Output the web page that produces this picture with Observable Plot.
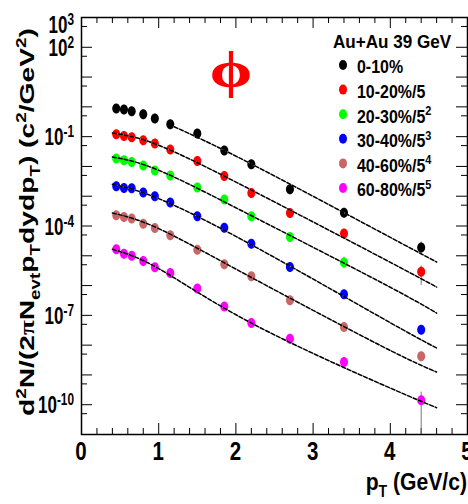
<!DOCTYPE html>
<html>
<head>
<meta charset="utf-8">
<script src="https://cdn.jsdelivr.net/npm/d3@7"></script>
<script src="https://cdn.jsdelivr.net/npm/@observablehq/plot@0.6"></script>
<style>
  html, body { margin: 0; padding: 0; background: #fff; }
  #chart { width: 468px; height: 504px; overflow: hidden; }
  #chart svg text { font-family: "Liberation Sans", Arial, sans-serif; font-weight: bold; fill: #000; }
</style>
</head>
<body>
<div id="chart"></div>
<script>
// phi meson invariant yields, Au+Au at 39 GeV, by centrality (scaled by 1/5^n)
const centralities = ["0-10%", "10-20%", "20-30%", "30-40%", "40-60%", "60-80%"];
const scalePowers = [0, 1, 2, 3, 4, 5];
const colors = ["#000000", "#ff0000", "#00ff00", "#0000ff", "#cc6666", "#ff00ff"];

const pT = [0.45, 0.55, 0.65, 0.8, 0.95, 1.15, 1.5, 1.85, 2.2, 2.7, 3.4, 4.4];

const yield0_10  = [0.877, 0.81, 0.71, 0.565, 0.405, 0.26, 0.127, 0.034, 0.0118, 0.0017, 2.8e-4, 1.88e-5];
const yield10_20 = [0.120, 0.105, 0.0953, 0.0755, 0.0586, 0.0368, 0.0152, 0.00478, 0.00128, 2.73e-4, 5.55e-5, 2.89e-6];
const yield20_30 = [0.0184, 0.0161, 0.0141, 0.0107, 0.00726, 0.00493, 0.00195, 7.7e-4, 2.11e-4, 4.27e-5, 5.9e-6, null];
const yield30_40 = [0.00215, 0.00189, 0.00185, 0.00132, 9.9e-4, 6.1e-4, 2.11e-4, 8.8e-5, 2.56e-5, 4.19e-6, 5.07e-7, 3.3e-8];
const yield40_60 = [2.29e-4, 2.0e-4, 1.77e-4, 1.20e-4, 8.55e-5, 4.86e-5, 1.61e-5, 5.16e-6, 2.04e-6, 3.19e-7, 4.04e-8, 4.2e-9];
const yield60_80 = [1.65e-5, 1.18e-5, 9.97e-6, 6.67e-6, 4.09e-6, 2.64e-6, 7.9e-7, 2.0e-7, 5.5e-8, 1.65e-8, 2.7e-9, 1.4e-10];
const yields = [yield0_10, yield10_20, yield20_30, yield30_40, yield40_60, yield60_80];

// visible statistical error bars: [centrality, pT, low, high]
const errorBars = [
  ["0-10%", 4.4, 1.21e-5, 2.9e-5],
  ["10-20%", 4.4, 1.02e-6, 4.5e-6],
  ["20-30%", 3.4, 3.8e-6, 9e-6],
  ["60-80%", 4.4, 1e-11, 2.65e-10]
];

// fitted spectra (dashed curves), sampled at a few pT nodes
const fitPt0_10 = [1.2, 2.19, 3.87, 4.6];
const fitPt = [0.4, 1.0, 2.19, 3.87, 4.6];
const fit0_10  = [0.215, 0.01247, 6.28e-5, 6.17e-6];
const fit10_20 = [0.133, 0.0513, 0.00167, 9.08e-6, 8.93e-7];
const fit20_30 = [0.02075, 0.00743, 2.29e-4, 1.32e-6, 1.19e-7];
const fit30_40 = [0.00251, 8.3e-4, 2.43e-5, 8.77e-8, 7.98e-9];
const fit40_60 = [2.73e-4, 8.17e-5, 1.94e-6, 9.82e-9, 1.25e-9];
const fit60_80 = [1.65e-5, 3.71e-6, 5.69e-8, 5.08e-10, 7.94e-11];
const fits = [fit0_10, fit10_20, fit20_30, fit30_40, fit40_60, fit60_80];

// axis ticks
const xMajorTicks = [0, 1, 2, 3, 4, 5];
const xMinorTicks = d3.range(0, 5.001, 0.2).map(v => +v.toFixed(1)).filter(v => v % 1 !== 0);
const yMajorTicks = d3.range(-11, 4).map(e => Math.pow(10, e));
const yMinorTicks = d3.range(-11, 3).map(e => 5 * Math.pow(10, e));
const yLabelExponents = [3, 2, -1, -4, -7, -10];

// ---- tidy rows ----
const points = centralities.flatMap((c, i) =>
  pT.map((x, j) => ({c, pt: x, y: yields[i][j]})).filter(d => d.y != null));
const fitRows = centralities.flatMap((c, i) =>
  (i === 0 ? fitPt0_10 : fitPt).map((x, j) => ({c, pt: x, y: fits[i][j]})));
const errRows = errorBars.map(([c, pt, lo, hi]) => ({c, pt, lo, hi}));

// slightly tall ellipse marker
const ellipse = {
  draw(ctx, size) {
    const r = Math.sqrt(size / Math.PI), rx = r * 0.8, ry = r, k = 0.5523;
    ctx.moveTo(rx, 0);
    ctx.bezierCurveTo(rx, ry * k, rx * k, ry, 0, ry);
    ctx.bezierCurveTo(-rx * k, ry, -rx, ry * k, -rx, 0);
    ctx.bezierCurveTo(-rx, -ry * k, -rx * k, -ry, 0, -ry);
    ctx.bezierCurveTo(rx * k, -ry, rx, -ry * k, rx, 0);
    ctx.closePath();
  }
};

const W = 468, H = 504, mL = 81, mR = 1, mT = 17, mB = 70;
const innerW = W - mL - mR, innerH = H - mT - mB;

const plot = Plot.plot({
  width: W, height: H,
  marginLeft: mL, marginRight: mR, marginTop: mT, marginBottom: mB,
  x: {domain: [0, 5], axis: null},
  y: {type: "log", domain: [1e-11, 1e3], axis: null},
  color: {domain: centralities, range: colors},
  style: {background: "#fff", overflow: "visible"},
  marks: [
    // inward ticks on all four sides
    Plot.tickX(xMinorTicks, {x: d => d, insetTop: innerH - 6, stroke: "#000"}),
    Plot.tickX(xMajorTicks, {x: d => d, insetTop: innerH - 11, stroke: "#000"}),
    Plot.tickX(xMinorTicks, {x: d => d, insetBottom: innerH - 6, stroke: "#000"}),
    Plot.tickX(xMajorTicks, {x: d => d, insetBottom: innerH - 11, stroke: "#000"}),
    Plot.tickY(yMajorTicks, {y: d => d, insetRight: innerW - 11, stroke: "#000"}),
    Plot.tickY(yMinorTicks, {y: d => d, insetRight: innerW - 6, stroke: "#000"}),
    Plot.tickY(yMajorTicks, {y: d => d, insetLeft: innerW - 11, stroke: "#000"}),
    Plot.tickY(yMinorTicks, {y: d => d, insetLeft: innerW - 6, stroke: "#000"}),
    Plot.ruleX(errRows, {x: "pt", y1: "lo", y2: "hi", stroke: "#777", strokeWidth: 1}),
    Plot.dot(points, {x: "pt", y: "y", fill: "c", r: 5, symbol: ellipse}),
    Plot.line(fitRows, {x: "pt", y: "y", z: "c", stroke: "#c8c8c8", strokeWidth: 1, curve: "natural"}),
    Plot.line(fitRows, {x: "pt", y: "y", z: "c", stroke: "#000", strokeWidth: 1.5, strokeDasharray: "4,2", curve: "natural"}),
    Plot.frame({stroke: "#000", strokeWidth: 1.5})
  ]
});

document.getElementById("chart").appendChild(plot);

const svg = d3.select(plot);
const xs = plot.scale("x"), ys = plot.scale("y");

// bold text placed at (x, y), squeezed horizontally by sx around its anchor
function label(parent, x, y, size, anchor, sx) {
  return parent.append("text")
    .attr("transform", `translate(${x},${y}) scale(${sx},1)`)
    .attr("text-anchor", anchor)
    .attr("font-size", size);
}

// text with sub/superscripts
function rich(sel, parts, size) {
  let shift = 0;
  for (const [t, k] of parts) {
    const target = k === "sup" ? -0.4 * size : k === "sub" ? 0.28 * size : 0;
    const ts = sel.append("tspan").text(t).attr("dy", target - shift);
    shift = target;
    if (k === "sup" || k === "sub") ts.attr("font-size", Math.round(size * 0.68));
    if (k === "sym") ts.style("font-family", "'Liberation Serif', serif").attr("font-size", Math.round(size * 0.95));
  }
  return sel;
}

const labels = svg.append("g");

// x tick labels
xMajorTicks.forEach(v => {
  label(labels, xs.apply(v), 460, 25, "middle", 0.82).text(String(v));
});

// y tick labels 10^n
yLabelExponents.forEach(e => {
  const t = label(labels, 74, Math.max(ys.apply(Math.pow(10, e)) + 9, mT + 15.5), 23, "end", 0.74);
  t.append("tspan").text("10");
  t.append("tspan").text(String(e)).attr("font-size", 16).attr("dy", -8);
});

// x axis title
rich(label(labels, 467, 490, 24, "end", 0.88),
  [["p", "n"], ["T", "sub"], [" (GeV/c)", "n"]], 24);

// y axis title, stretched to its span along the axis
const yTitle = rich(labels.append("text")
  .attr("transform", "translate(34,416) rotate(-90)")
  .attr("text-anchor", "start").attr("font-size", 21),
  [["d", "n"], ["2", "sup"], ["N/(2", "n"], ["\u03c0", "sym"], ["N", "n"], ["evt", "sub"],
   ["p", "n"], ["T", "sub"], ["dydp", "n"], ["T", "sub"], [") (c", "n"], ["2", "sup"],
   ["/GeV", "n"], ["2", "sup"], [")", "n"]], 21);
{
  const len = yTitle.node().getComputedTextLength();
  const target = 388;
  if (len > 0) yTitle.attr("transform", `translate(34,416) rotate(-90) scale(${target / len},1)`);
}

// particle symbol
labels.append("text")
  .attr("transform", "translate(231,87) scale(1.35,1)")
  .attr("text-anchor", "middle")
  .attr("font-size", 51)
  .style("font-family", "'Liberation Serif', 'DejaVu Serif', serif")
  .style("fill", "#ff0000")
  .text("\u03d5");

// legend
const legend = svg.append("g");
label(legend, 333, 48, 19, "start", 0.9).text("Au+Au 39 GeV");
centralities.forEach((c, i) => {
  const cy = 65 + i * 24.6;
  legend.append("ellipse").attr("cx", 343).attr("cy", cy).attr("rx", 4).attr("ry", 5).attr("fill", colors[i]);
  const parts = [[c, "n"]];
  if (scalePowers[i] >= 1) parts.push(["/5", "n"]);
  if (scalePowers[i] >= 2) parts.push([String(scalePowers[i]), "sup"]);
  rich(label(legend, 357, cy + 8.3, 19, "start", 0.84), parts, 19);
});
</script>
</body>
</html>
